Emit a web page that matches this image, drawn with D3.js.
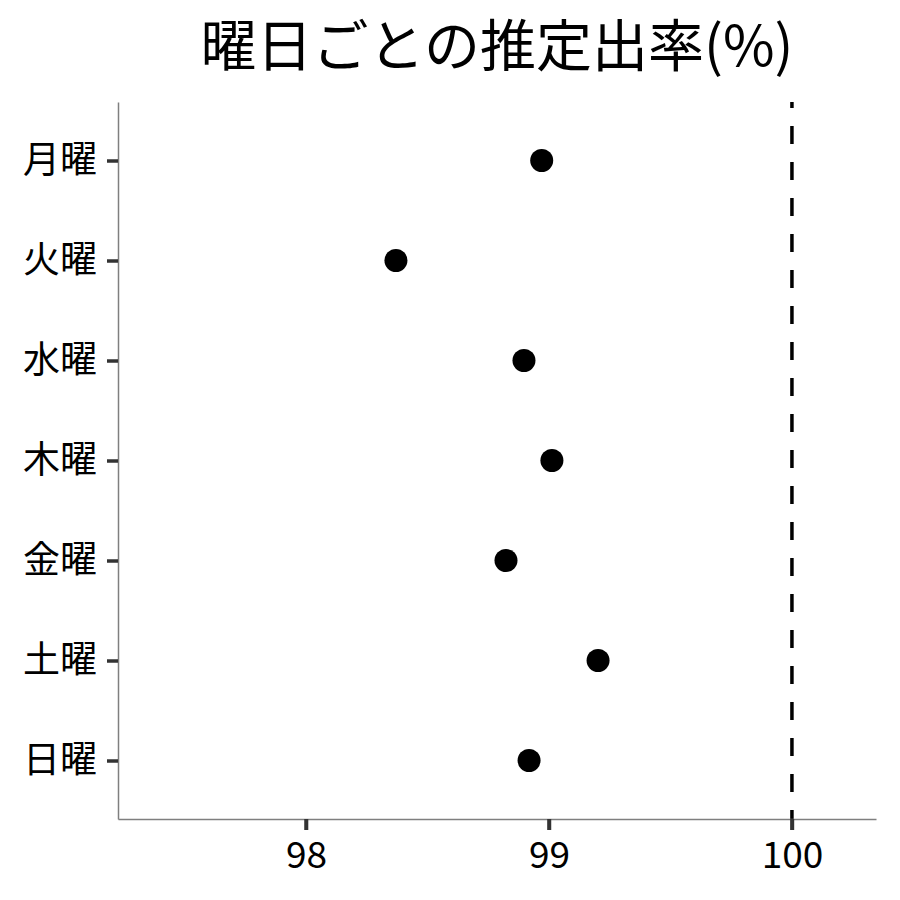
<!DOCTYPE html>
<html><head><meta charset="utf-8">
<script src="https://cdn.jsdelivr.net/npm/d3@7"></script>
<style>body{margin:0;background:#fff;} text{font-family:"Noto Sans CJK JP","Noto Sans",sans-serif;}</style>
</head><body>
<script>
const days = ["月曜","火曜","水曜","木曜","金曜","土曜","日曜"];
const rates = [98.970, 98.370, 98.897, 99.012, 98.823, 99.202, 98.918];
const xTicks = [98, 99, 100];
const refLine = 100;
const title = "曜日ごとの推定出率(%)";

const W = 900, H = 900;
const mLeft = 118, mRight = 876, mTop = 102, mBottom = 819;
const svg = d3.select("body").append("svg").attr("width", W).attr("height", H);

const x = d3.scaleLinear().domain([97.226, 100.346]).range([mLeft, mRight]);
const y = d3.scalePoint().domain(days).range([mTop, mBottom]).padding(0.585);

// title
svg.append("text").attr("x", (mLeft + mRight) / 2).attr("y", 66)
  .attr("text-anchor", "middle").attr("font-size", 56).attr("fill", "#000").text(title);

// reference line
svg.append("line").attr("x1", x(refLine)).attr("x2", x(refLine))
  .attr("y1", mTop).attr("y2", mBottom)
  .attr("stroke", "#000").attr("stroke-width", 3.5)
  .attr("stroke-dasharray", "18,18").attr("stroke-dashoffset", 12);

// axes
const xAxis = svg.append("g").attr("transform", `translate(0,${mBottom})`)
  .call(d3.axisBottom(x).tickValues(xTicks).tickSize(11).tickSizeOuter(0).tickPadding(12).tickFormat(d3.format("d")));
const yAxis = svg.append("g").attr("transform", `translate(${mLeft},0)`)
  .call(d3.axisLeft(y).tickSize(11).tickSizeOuter(0).tickPadding(10));
[xAxis, yAxis].forEach(g => {
  g.attr("font-size", 37).attr("font-family", '"Noto Sans CJK JP","Noto Sans",sans-serif');
  g.select(".domain").attr("stroke", "#7f7f7f").attr("stroke-width", 1.5);
  g.selectAll(".tick line").attr("stroke", "#333333").attr("stroke-width", 3.5);
  g.selectAll(".tick text").attr("fill", "#000").attr("font-size", 37);
});

// explicit x tick marks drawn as a path from the scale
svg.append("path")
  .attr("d", xTicks.map(d => `M${x(d)},${mBottom}V${mBottom + 11}`).join(""))
  .attr("stroke", "#333333").attr("stroke-width", 3.5).attr("fill", "none");

// points
svg.selectAll("circle.pt").data(days).enter().append("circle")
  .attr("class", "pt")
  .attr("cx", (d, i) => x(rates[i])).attr("cy", d => y(d))
  .attr("r", 11.5).attr("fill", "#000");
</script>
</body></html>
